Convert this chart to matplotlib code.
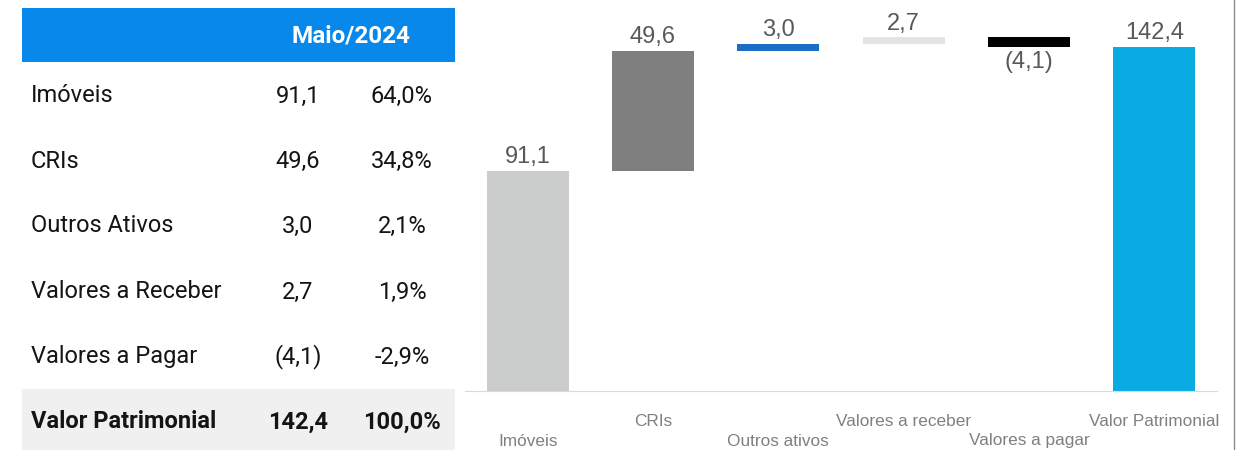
import matplotlib.pyplot as plt
from matplotlib.patches import Rectangle

# dados da tabela
rotulos_tabela = ["Imóveis", "CRIs", "Outros Ativos", "Valores a Receber", "Valores a Pagar", "Valor Patrimonial"]
valores_tabela = ["91,1", "49,6", "3,0", "2,7", "(4,1)", "142,4"]
percentuais = ["64,0%", "34,8%", "2,1%", "1,9%", "-2,9%", "100,0%"]
periodo = "Maio/2024"

# dados do gráfico (waterfall)
categorias = ["Imóveis", "CRIs", "Outros ativos", "Valores a receber", "Valores a pagar", "Valor Patrimonial"]
variacoes = [91.1, 49.6, 3.0, 2.7, -4.1]
total = 142.4
rotulos_barras = ["91,1", "49,6", "3,0", "2,7", "(4,1)", "142,4"]
cores = ["#CBCDCC", "#7F7F7F", "#1A6FC4", "#E4E4E4", "#000000", "#08ACE3"]

W, H = 1246, 450
fig = plt.figure(figsize=(W / 100, H / 100), dpi=100)

# tabela (coordenadas em pixels)
tab = fig.add_axes([0, 0, 1, 1])
tab.set_xlim(0, W)
tab.set_ylim(H, 0)
tab.axis("off")
tab.add_patch(Rectangle((22, 8), 433, 54, color="#0788EA", lw=0))
tab.text(351, 36, periodo, color="white", fontsize=17.5, fontweight="bold",
         family="Roboto", ha="center", va="center")
tab.add_patch(Rectangle((22, 389), 433, 61, color="#F0F0F0", lw=0))
linhas_y = [96, 161, 226, 292, 357, 422]
for i, y in enumerate(linhas_y):
    peso = "bold" if i == len(linhas_y) - 1 else "normal"
    tab.text(31, y, rotulos_tabela[i], fontsize=17, fontweight=peso, family="Roboto",
             color="#141414", ha="left", va="center")
    tab.text(298, y, valores_tabela[i], fontsize=17, fontweight=peso, family="Roboto",
             color="#141414", ha="center", va="center")
    tab.text(402, y, percentuais[i], fontsize=17, fontweight=peso, family="Roboto",
             color="#141414", ha="center", va="center")
tab.plot([1234, 1234], [0, H], color="#8C8C8C", lw=1)

# gráfico waterfall
ax = fig.add_axes([465 / W, (H - 391) / H, (1217 - 465) / W, 391 / H])
bases = []
alturas = []
acum = 0
for v in variacoes:
    if v >= 0:
        bases.append(acum)
        alturas.append(v)
    else:
        bases.append(acum + v)
        alturas.append(-v)
    acum += v
bases.append(0)
alturas.append(total)

x = list(range(len(categorias)))
ax.bar(x, alturas, bottom=bases, width=0.655, color=cores)
ax.set_xlim(-0.5, 5.5)
ax.set_ylim(0, 391 / 2.416)

for i in x:
    if i < len(variacoes) and variacoes[i] < 0:
        ax.annotate(rotulos_barras[i], (i, bases[i]), xytext=(0, -3), textcoords="offset points",
                    ha="center", va="top", fontsize=17, color="#595959", family="Liberation Sans")
    else:
        ax.annotate(rotulos_barras[i], (i, bases[i] + alturas[i]), xytext=(0, 2), textcoords="offset points",
                    ha="center", va="bottom", fontsize=17, color="#595959", family="Liberation Sans")

for i, cat in enumerate(categorias):
    desloc = -50 if i % 2 == 0 else -30
    ax.annotate(cat, (i, 0), xycoords=("data", "axes fraction"), xytext=(0, desloc * 0.72),
                textcoords="offset points", ha="center", va="center", fontsize=12.4,
                color="#808080", family="Liberation Sans", annotation_clip=False)

for s in ["top", "right", "left"]:
    ax.spines[s].set_visible(False)
ax.spines["bottom"].set_color("#D9D9D9")
ax.set_xticks([])
ax.set_yticks([])
ax.patch.set_alpha(0)

fig.savefig("out.png", dpi=100)
